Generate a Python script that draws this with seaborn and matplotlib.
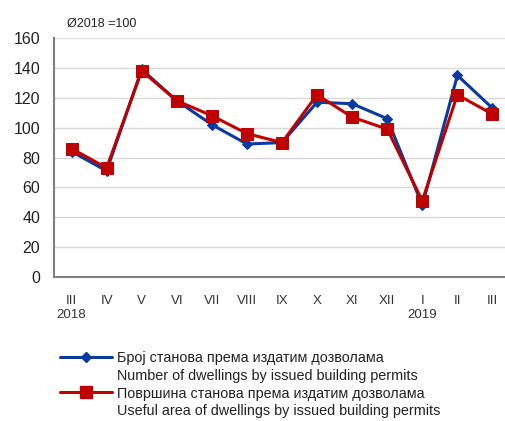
import numpy as np
import pandas as pd
import seaborn as sns
import matplotlib
import matplotlib.pyplot as plt
from matplotlib.lines import Line2D
from matplotlib.ticker import FixedLocator

matplotlib.use('Agg')
sns.set_style("white")
plt.rcParams['font.family'] = ['Liberation Sans', 'DejaVu Sans']

# -------------------------------Datos
meseci = ['III', 'IV', 'V', 'VI', 'VII', 'VIII', 'IX', 'X', 'XI', 'XII', 'I', 'II', 'III']
broj_stanova = [84, 71, 139, 118, 102, 89, 90, 117, 116, 106, 48, 135, 113]
povrsina_stanova = [86, 73, 138, 118, 108, 96, 90, 122, 107, 99, 51, 122, 109]
godine = {0: '2018', 10: '2019'}

label_broj = ['Број станова према издатим дозволама', 'Number of dwellings by issued building permits']
label_povrsina = ['Површина станова према издатим дозволама', 'Useful area of dwellings by issued building permits']

plava = '#0a3a9c'
crvena = '#c00000'

df = pd.DataFrame({
    'pos': np.arange(len(meseci)),
    'broj': broj_stanova,
    'povrsina': povrsina_stanova,
})

fig = plt.figure(figsize=(5.05, 4.21), dpi=100)
W, H = 505, 421
# axes extends slightly past the right edge like the original
ax = fig.add_axes([54 / W, 1 - 277 / H, 456 / W, (277 - 38) / H])

sns.lineplot(data=df, x='pos', y='broj', ax=ax, color=plava, lw=2.2,
             marker='D', markersize=5, markeredgecolor=plava, legend=False)
sns.lineplot(data=df, x='pos', y='povrsina', ax=ax, color=crvena, lw=2.2,
             marker='s', markersize=8, markeredgecolor=crvena, legend=False)

ax.set_xlim(-0.5, len(meseci) - 0.5)
ax.set_ylim(0, 160)
ax.set_yticks(range(0, 161, 20))
ax.yaxis.grid(True, color='#d9d9d9', lw=1)
ax.set_axisbelow(True)
ax.tick_params(axis='y', length=0, labelsize=11.5, pad=10, colors='#222222')

ax.set_xticks(df['pos'])
ax.set_xticklabels(meseci, fontsize=9.5, color='#333333')
ax.tick_params(axis='x', which='major', length=0, pad=13)
ax.xaxis.set_minor_locator(FixedLocator(np.arange(-0.5, len(meseci), 1)))
ax.tick_params(axis='x', which='minor', length=6, width=1.2, color='#808080', direction='out')

for pos, god in godine.items():
    ax.text(pos, -0.135, god, transform=ax.get_xaxis_transform(),
            ha='center', va='top', fontsize=9.5, color='#333333')

ax.set_xlabel('')
ax.set_ylabel('')
for s in ['top', 'right']:
    ax.spines[s].set_visible(False)
for s in ['left', 'bottom']:
    ax.spines[s].set_color('#808080')
    ax.spines[s].set_linewidth(1.5)

fig.text(67 / W, 1 - 24 / H, 'Ø2018 =100', fontsize=9, va='center', ha='left', color='#222222')

# legend: marker next to the first line of each label
prazno = Line2D([], [], color='none')
handles = [
    Line2D([], [], color=plava, lw=2.2, marker='D', markersize=5),
    prazno,
    Line2D([], [], color=crvena, lw=2.2, marker='s', markersize=8),
    prazno,
]
labels = label_broj + label_povrsina
fig.legend(handles, labels, loc='upper left', bbox_to_anchor=(60 / W, 1 - 351 / H),
           frameon=False, fontsize=10.4, handlelength=3.6, handletextpad=0.35,
           labelspacing=0.26, borderaxespad=0, borderpad=0, numpoints=1,
           labelcolor='#222222')

plt.savefig('out.png', dpi=100)
